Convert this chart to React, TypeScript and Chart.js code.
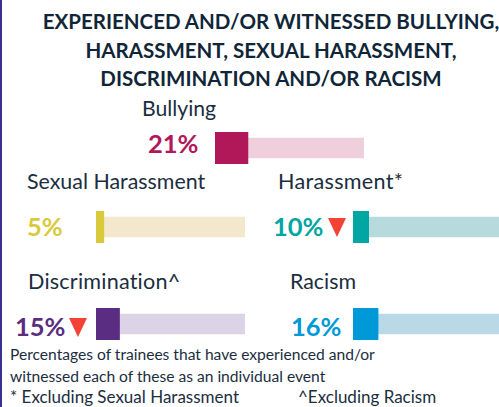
import React, { useEffect, useRef } from "react";
import { Chart, registerables } from "chart.js";

Chart.register(...registerables);

// ---- data ----
const titleLines = [
  "EXPERIENCED AND/OR WITNESSED BULLYING,",
  "HARASSMENT, SEXUAL HARASSMENT,",
  "DISCRIMINATION AND/OR RACISM",
];
const categories = ["Bullying", "Sexual Harassment", "Harassment*", "Discrimination^", "Racism"];
const values = [21, 5, 10, 15, 16];
const decreased = [false, false, true, true, false];
const scaleMax = 95;
const noteLines = [
  "Percentages of trainees that have experienced and/or",
  "witnessed each of these as an individual event",
];
const footnotes = ["* Excluding Sexual Harassment", "^Excluding Racism"];

// ---- styles ----
const darkColors = ["#b0185a", "#d8ca3b", "#00a6a1", "#5a2d82", "#0099d7"];
const lightColors = ["#f0cfdc", "#f3e8cb", "#b7dbdc", "#ddd3e6", "#b8d9e5"];
const TEXT = "#1b2e40";
const FONT = "Lato, 'Open Sans', sans-serif";

// layout per item: label x/baseline/size/spacing, value x/baseline, bar x/top, triangle x
const layout = [
  { lx: 142, lb: 117, ls: 21.2, sp: 0, vx: 148, vb: 154, bx: 215, by: 132, tx: 0 },
  { lx: 27, lb: 190, ls: 21.4, sp: 0, vx: 27, vb: 237, bx: 96, by: 211, tx: 0 },
  { lx: 278, lb: 190, ls: 21.6, sp: 0.3, vx: 273, vb: 237, bx: 353, by: 211, tx: 328 },
  { lx: 28, lb: 290, ls: 21.6, sp: 0.2, vx: 15, vb: 337, bx: 96, by: 308, tx: 69 },
  { lx: 290, lb: 290, ls: 21.4, sp: 0, vx: 291, vb: 337, bx: 353, by: 308, tx: 0 },
];

function Txt(props: {
  x: number;
  b: number;
  size: number;
  weight?: number;
  color?: string;
  spacing?: number;
  children: React.ReactNode;
  center?: boolean;
}) {
  const { x, b, size, weight = 400, color = TEXT, spacing = 0, children, center } = props;
  return (
    <div
      style={{
        position: "absolute",
        left: center ? x - 300 : x,
        width: center ? 600 : undefined,
        textAlign: center ? "center" : "left",
        top: b - 0.887 * size,
        fontSize: size,
        lineHeight: `${size}px`,
        fontWeight: weight,
        letterSpacing: spacing,
        color,
        whiteSpace: "nowrap",
        fontFamily: FONT,
      }}
    >
      {children}
    </div>
  );
}

function MiniBar(props: { idx: number; left: number; top: number }) {
  const ref = useRef<HTMLCanvasElement | null>(null);
  const { idx, left, top } = props;
  useEffect(() => {
    if (!ref.current) return;
    const chart = new Chart(ref.current, {
      type: "bar",
      data: {
        labels: [categories[idx]],
        datasets: [
          {
            data: [values[idx]],
            backgroundColor: darkColors[idx],
            barThickness: 32,
            borderWidth: 0,
          },
          {
            data: [scaleMax],
            backgroundColor: lightColors[idx],
            barThickness: 20,
            borderWidth: 0,
          },
        ],
      },
      options: {
        indexAxis: "y",
        responsive: false,
        maintainAspectRatio: false,
        animation: false,
        events: [],
        layout: { padding: 0 },
        datasets: { bar: { grouped: false } },
        scales: {
          x: { display: false, min: 0, max: scaleMax },
          y: { display: false },
        },
        plugins: { legend: { display: false }, tooltip: { enabled: false } },
      },
    });
    return () => chart.destroy();
  }, [idx]);
  return (
    <canvas
      ref={ref}
      width={149}
      height={32}
      style={{ position: "absolute", left, top, width: 149, height: 32 }}
    />
  );
}

function Triangle(props: { x: number; y: number }) {
  return (
    <div
      style={{
        position: "absolute",
        left: props.x,
        top: props.y,
        width: 0,
        height: 0,
        borderLeft: "9.5px solid transparent",
        borderRight: "9.5px solid transparent",
        borderTop: "19px solid #f44336",
      }}
    />
  );
}

export default function App() {
  return (
    <div
      style={{
        position: "fixed",
        left: 0,
        top: 0,
        width: 499,
        height: 407,
        overflow: "hidden",
        background: "#ffffff",
        fontFamily: FONT,
      }}
    >
      <div style={{ position: "absolute", left: 0, top: 0, width: 2, height: 407, background: "#3a3190" }} />
      {titleLines.map((t, i) => (
        <Txt key={t} x={271} b={29.5 + i * 28.5} size={20.5} weight={700} color="#102638" center>
          {t}
        </Txt>
      ))}
      {categories.map((c, i) => {
        const L = layout[i];
        return (
          <React.Fragment key={c}>
            <Txt x={L.lx} b={L.lb} size={L.ls} spacing={L.sp}>
              {c}
            </Txt>
            <Txt x={L.vx} b={L.vb} size={25.5} weight={700} color={darkColors[i]}>
              {values[i]}%
            </Txt>
            {decreased[i] && <Triangle x={L.tx} y={L.vb - 19} />}
            <MiniBar idx={i} left={L.bx} top={L.by} />
          </React.Fragment>
        );
      })}
      {noteLines.map((t, i) => (
        <Txt key={t} x={10} b={361 + i * 21.5} size={15.6}>
          {t}
        </Txt>
      ))}
      <Txt x={10} b={403} size={17}>
        {footnotes[0]}
      </Txt>
      <Txt x={298} b={403} size={17}>
        {footnotes[1]}
      </Txt>
    </div>
  );
}
